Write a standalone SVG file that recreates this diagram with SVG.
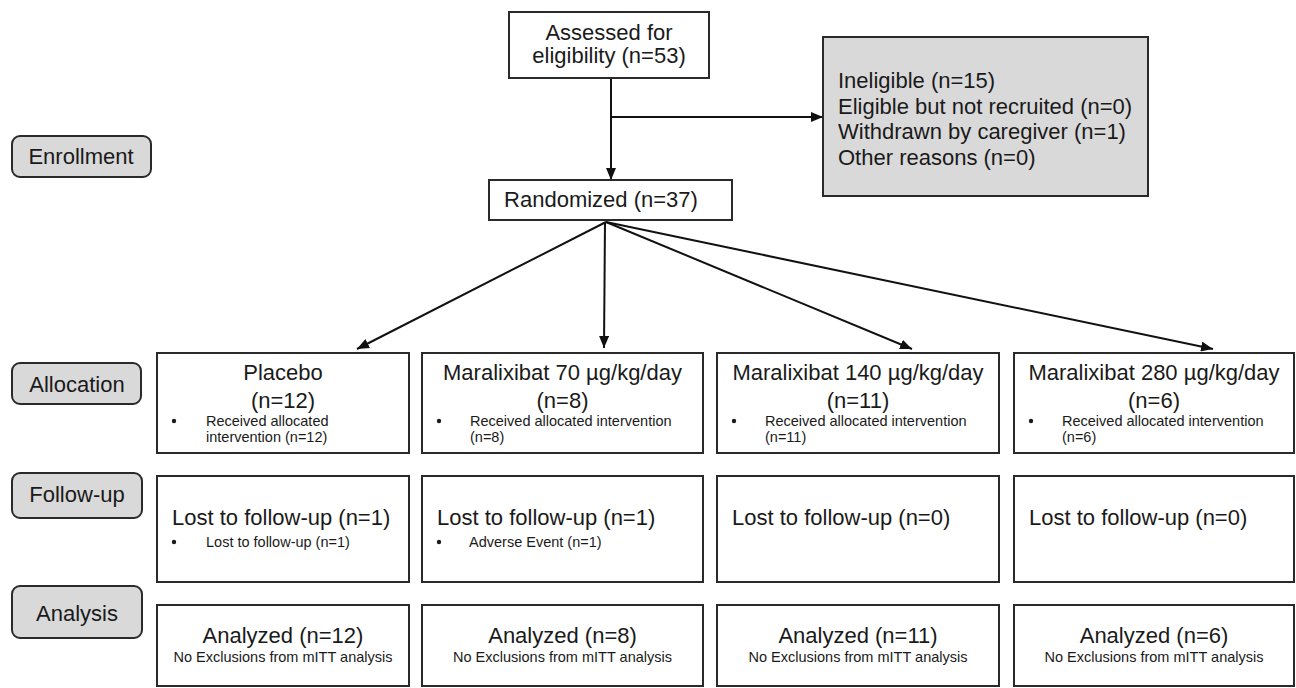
<svg xmlns="http://www.w3.org/2000/svg" width="1296" height="688" viewBox="0 0 1296 688">
<defs>
<marker id="ah" viewBox="0 0 12 10" refX="12" refY="5" markerWidth="12" markerHeight="10" markerUnits="userSpaceOnUse" orient="auto"><path d="M0,0 L12,5 L0,10 z" fill="#111"/></marker>
</defs>
<style>
text{font-family:"Liberation Sans",Arial,sans-serif;fill:#1a1a1a}
.big{font-size:22px}
.sm{font-size:14.5px}
.mid{text-anchor:middle}
.box{fill:#fff;stroke:#2a2a2a;stroke-width:2}
.gray{fill:#d9d9d9;stroke:#2a2a2a;stroke-width:2}
.lab{fill:#d9d9d9;stroke:#2a2a2a;stroke-width:2}
.ln{fill:none;stroke:#111;stroke-width:2}
.dot{fill:#1a1a1a}
</style>
<rect width="1296" height="688" fill="#fff"/>

<g id="connectors">
<line class="ln" x1="611" y1="78" x2="611" y2="180" marker-end="url(#ah)"/>
<line class="ln" x1="611" y1="117" x2="823" y2="117" marker-end="url(#ah)"/>
<line class="ln" x1="606" y1="222" x2="357" y2="349" marker-end="url(#ah)"/>
<line class="ln" x1="605" y1="222" x2="604" y2="348" marker-end="url(#ah)"/>
<line class="ln" x1="606" y1="222" x2="912" y2="349" marker-end="url(#ah)"/>
<line class="ln" x1="606" y1="222" x2="1213" y2="349" marker-end="url(#ah)"/>
</g>

<g id="label-enrollment"><rect class="lab" x="12" y="136" width="139" height="41" rx="8"/><text class="big mid" x="81" y="164">Enrollment</text></g>
<g id="label-allocation"><rect class="lab" x="12" y="363" width="129" height="41" rx="8"/><text class="big mid" x="77" y="392">Allocation</text></g>
<g id="label-followup"><rect class="lab" x="12" y="473" width="130" height="45" rx="8"/><text class="big mid" x="77" y="502">Follow-up</text></g>
<g id="label-analysis"><rect class="lab" x="12" y="586" width="130" height="52" rx="8"/><text class="big mid" x="77" y="621">Analysis</text></g>

<g id="assessed"><rect class="box" x="509" y="12" width="200" height="66"/><text class="big mid" x="609" y="40">Assessed for</text><text class="big mid" x="609" y="63">eligibility (n=53)</text></g>

<g id="excluded"><rect class="gray" x="823" y="37" width="325" height="159"/>
<text class="big" x="838" y="88">Ineligible (n=15)</text>
<text class="big" x="838" y="114">Eligible but not recruited (n=0)</text>
<text class="big" x="838" y="139">Withdrawn by caregiver (n=1)</text>
<text class="big" x="838" y="165">Other reasons (n=0)</text></g>

<g id="randomized"><rect class="box" x="489" y="180" width="243" height="40"/><text class="big mid" x="601" y="207">Randomized (n=37)</text></g>

<g id="alloc-placebo"><rect class="box" x="157" y="353" width="252" height="100"/>
<text class="big mid" x="283" y="380">Placebo</text><text class="big mid" x="283" y="408">(n=12)</text>
<circle class="dot" cx="174" cy="421" r="2.2"/><text class="sm" x="206" y="426">Received allocated</text><text class="sm" x="206" y="442">intervention (n=12)</text></g>

<g id="alloc-70"><rect class="box" x="422" y="353" width="281" height="100"/>
<text class="big mid" x="562.5" y="380">Maralixibat 70 µg/kg/day</text><text class="big mid" x="562.5" y="408">(n=8)</text>
<circle class="dot" cx="439" cy="421" r="2.2"/><text class="sm" x="470" y="426">Received allocated intervention</text><text class="sm" x="470" y="442">(n=8)</text></g>

<g id="alloc-140"><rect class="box" x="717" y="353" width="282" height="100"/>
<text class="big mid" x="858" y="380">Maralixibat 140 µg/kg/day</text><text class="big mid" x="858" y="408">(n=11)</text>
<circle class="dot" cx="734" cy="421" r="2.2"/><text class="sm" x="765" y="426">Received allocated intervention</text><text class="sm" x="765" y="442">(n=11)</text></g>

<g id="alloc-280"><rect class="box" x="1014" y="353" width="280" height="100"/>
<text class="big mid" x="1154" y="380">Maralixibat 280 µg/kg/day</text><text class="big mid" x="1154" y="408">(n=6)</text>
<circle class="dot" cx="1031" cy="421" r="2.2"/><text class="sm" x="1062" y="426">Received allocated intervention</text><text class="sm" x="1062" y="442">(n=6)</text></g>

<g id="fu-placebo"><rect class="box" x="157" y="476" width="252" height="106"/>
<text class="big" x="172" y="525">Lost to follow-up (n=1)</text>
<circle class="dot" cx="174" cy="542" r="2.2"/><text class="sm" x="206" y="547">Lost to follow-up (n=1)</text></g>

<g id="fu-70"><rect class="box" x="422" y="476" width="281" height="106"/>
<text class="big" x="437" y="525">Lost to follow-up (n=1)</text>
<circle class="dot" cx="439" cy="542" r="2.2"/><text class="sm" x="469" y="547">Adverse Event (n=1)</text></g>

<g id="fu-140"><rect class="box" x="717" y="476" width="282" height="106"/>
<text class="big" x="732" y="525">Lost to follow-up (n=0)</text></g>

<g id="fu-280"><rect class="box" x="1014" y="476" width="280" height="106"/>
<text class="big" x="1029" y="525">Lost to follow-up (n=0)</text></g>

<g id="an-placebo"><rect class="box" x="157" y="605" width="252" height="81"/>
<text class="big mid" x="283" y="643">Analyzed (n=12)</text><text class="sm mid" x="283" y="662">No Exclusions from mITT analysis</text></g>

<g id="an-70"><rect class="box" x="422" y="605" width="281" height="81"/>
<text class="big mid" x="562.5" y="643">Analyzed (n=8)</text><text class="sm mid" x="562.5" y="662">No Exclusions from mITT analysis</text></g>

<g id="an-140"><rect class="box" x="717" y="605" width="282" height="81"/>
<text class="big mid" x="858" y="643">Analyzed (n=11)</text><text class="sm mid" x="858" y="662">No Exclusions from mITT analysis</text></g>

<g id="an-280"><rect class="box" x="1014" y="605" width="280" height="81"/>
<text class="big mid" x="1154" y="643">Analyzed (n=6)</text><text class="sm mid" x="1154" y="662">No Exclusions from mITT analysis</text></g>
</svg>
